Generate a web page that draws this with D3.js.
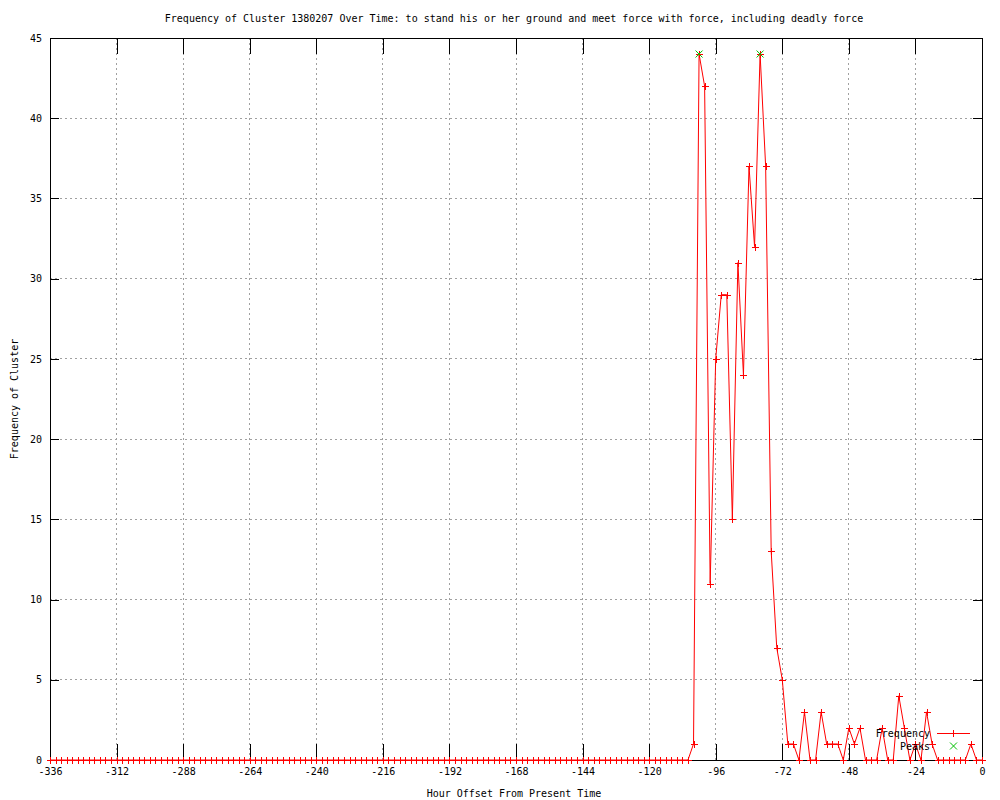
<!DOCTYPE html>
<html>
<head>
<meta charset="utf-8">
<script src="https://cdn.jsdelivr.net/npm/d3@7"></script>
<style>
  body { margin: 0; background: #fff; }
  svg { display: block; }
  text { font-family: "DejaVu Sans Mono", monospace; font-size: 10px; fill: #000; }
</style>
</head>
<body>
<svg id="chart" width="1000" height="800"></svg>
<script>
// hours before now, one sample every 2 hours
var hours = d3.range(-336, 1, 2);

// frequency per sample
var frequency = [
  0,0,0,0,0,0,0,0,0,0,0,0,0,0,0,0,0,0,0,0,
  0,0,0,0,0,0,0,0,0,0,0,0,0,0,0,0,0,0,0,0,
  0,0,0,0,0,0,0,0,0,0,0,0,0,0,0,0,0,0,0,0,
  0,0,0,0,0,0,0,0,0,0,0,0,0,0,0,0,0,0,0,0,
  0,0,0,0,0,0,0,0,0,0,0,0,0,0,0,0,0,0,0,0,
  0,0,0,0,0,0,0,0,0,0,0,0,0,0,0,0,
  1,44,42,11,25,29,29,15,31,24,37,32,44,37,13,7,5,1,1,0,
  3,0,0,3,1,1,1,0,2,1,2,0,0,0,2,0,0,4,2,0,
  1,0,3,1,0,0,0,0,0,0,1,0,0
];

var peakHours = [-102, -80];
var peakValues = [44, 44];

var xTicks = d3.range(-336, 1, 24);
var yTicks = d3.range(0, 46, 5);

var title = "Frequency of Cluster 1380207 Over Time: to stand his or her ground and meet force with force, including deadly force";
var xLabel = "Hour Offset From Present Time";
var yLabel = "Frequency of Cluster";

var svg = d3.select("#chart");
var plotL = 50, plotR = 982, plotT = 38, plotB = 760;

var x = d3.scaleLinear().domain([-336, 0]).range([plotL, plotR]);
var y = d3.scaleLinear().domain([0, 45]).range([plotB, plotT]);

// grid
var grid = svg.append("g").attr("shape-rendering", "crispEdges");
grid.selectAll("line.gx")
  .data(xTicks.slice(1, -1))
  .enter().append("line")
  .attr("x1", d => x(d)).attr("x2", d => x(d))
  .attr("y1", plotT).attr("y2", plotB)
  .attr("stroke", "#a0a0a0").attr("stroke-dasharray", "2,3");
grid.selectAll("line.gy")
  .data(yTicks.slice(1, -1))
  .enter().append("line")
  .attr("y1", d => y(d)).attr("y2", d => y(d))
  .attr("x1", plotL).attr("x2", plotR)
  .attr("stroke", "#a0a0a0").attr("stroke-dasharray", "2,3");

// axes (gnuplot style: ticks inward, mirrored)
var xAxis = d3.axisBottom(x).tickValues(xTicks).tickSizeInner(-16).tickSizeOuter(0).tickPadding(8).tickFormat(d => String(d));
var xTop = d3.axisTop(x).tickValues(xTicks).tickSizeInner(-16).tickSizeOuter(0).tickFormat("");
var yAxis = d3.axisLeft(y).tickValues(yTicks).tickSizeInner(-9).tickSizeOuter(0).tickPadding(8).tickFormat(d => String(d));
var yRight = d3.axisRight(y).tickValues(yTicks).tickSizeInner(-9).tickSizeOuter(0).tickFormat("");

function style(g) {
  g.attr("shape-rendering", "crispEdges");
  g.select(".domain").remove();
  g.selectAll("line").attr("stroke", "#000");
  g.selectAll("text").attr("font-family", "DejaVu Sans Mono").attr("font-size", 10).attr("fill", "#000");
}
svg.append("g").attr("transform", "translate(0," + plotB + ")").call(xAxis).call(style);
svg.append("g").attr("transform", "translate(0," + plotT + ")").call(xTop).call(style);
svg.append("g").attr("transform", "translate(" + plotL + ",0)").call(yAxis).call(style);
svg.append("g").attr("transform", "translate(" + plotR + ",0)").call(yRight).call(style);

svg.append("rect")
  .attr("x", plotL).attr("y", plotT)
  .attr("width", plotR - plotL).attr("height", plotB - plotT)
  .attr("fill", "none").attr("stroke", "#000").attr("shape-rendering", "crispEdges");

// frequency line
var pts = hours.map((h, i) => [h, frequency[i]]);
svg.append("path")
  .datum(pts)
  .attr("fill", "none").attr("stroke", "#ff0000").attr("stroke-width", 1)
  .attr("d", d3.line().x(d => x(d[0])).y(d => y(d[1])));

function plus(g, cx, cy, color) {
  g.append("path")
    .attr("d", "M" + (cx - 3.5) + "," + cy + "H" + (cx + 3.5) + "M" + cx + "," + (cy - 3.5) + "V" + (cy + 3.5))
    .attr("stroke", color).attr("fill", "none").attr("shape-rendering", "crispEdges");
}
function cross(g, cx, cy, color) {
  g.append("path")
    .attr("d", "M" + (cx - 3.5) + "," + (cy - 3.5) + "L" + (cx + 3.5) + "," + (cy + 3.5) +
               "M" + (cx - 3.5) + "," + (cy + 3.5) + "L" + (cx + 3.5) + "," + (cy - 3.5))
    .attr("stroke", color).attr("fill", "none");
}

var marks = svg.append("g");
pts.forEach(p => plus(marks, Math.round(x(p[0])) + 0.5, Math.round(y(p[1])) + 0.5, "#ff0000"));

var peaks = svg.append("g");
peakHours.forEach((h, i) => cross(peaks, x(h), y(peakValues[i]), "#00c000"));

// legend
var leg = svg.append("g");
leg.append("text").attr("x", 930).attr("y", 733).attr("dy", "0.35em").attr("text-anchor", "end").text("Frequency");
leg.append("line").attr("x1", 937).attr("x2", 970).attr("y1", 733.5).attr("y2", 733.5)
  .attr("stroke", "#ff0000").attr("shape-rendering", "crispEdges");
plus(leg, 953.5, 733.5, "#ff0000");
leg.append("text").attr("x", 930).attr("y", 746).attr("dy", "0.35em").attr("text-anchor", "end").text("Peaks");
cross(leg, 953.5, 746, "#00c000");

// titles
svg.append("text").attr("x", 514).attr("y", 18).attr("dy", "0.35em").attr("text-anchor", "middle").text(title);
svg.append("text").attr("x", 514).attr("y", 793).attr("dy", "0.35em").attr("text-anchor", "middle").text(xLabel);
svg.append("text").attr("transform", "translate(14,399) rotate(-90)").attr("dy", "0.35em").attr("text-anchor", "middle").text(yLabel);
</script>
</body>
</html>
